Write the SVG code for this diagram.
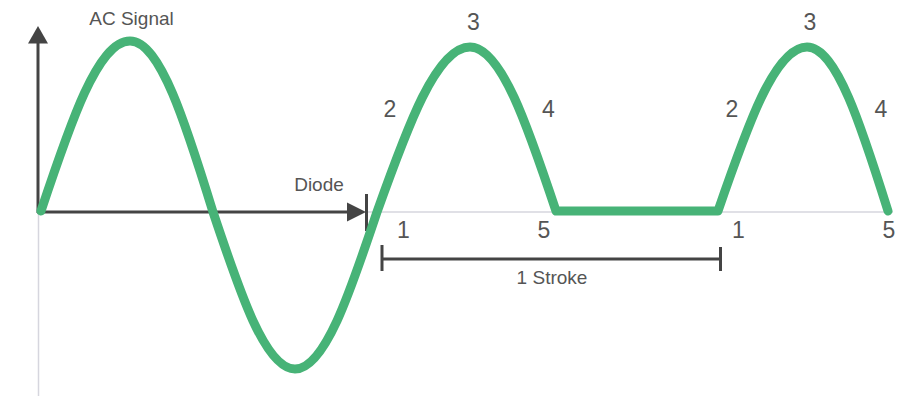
<svg xmlns="http://www.w3.org/2000/svg" width="897" height="398" viewBox="0 0 897 398">
<style>
.lbl{font-family:"Liberation Sans",Arial,sans-serif;fill:#555;text-anchor:middle}
.num{font-size:23px}
.txt{font-size:19px}
.dark{stroke:#444;stroke-width:3;fill:none}
.light{stroke:#d6d6de;stroke-width:1.5;fill:none}
.wave{stroke:#47B377;stroke-width:9;fill:none;stroke-linejoin:round;stroke-linecap:round}
</style>
<rect width="897" height="398" fill="#fff"/>
<g id="axes">
<line class="light" x1="38.5" y1="212" x2="38.5" y2="396"/>
<line class="light" x1="366" y1="212" x2="893" y2="212"/>
<line class="dark" x1="38" y1="42" x2="38" y2="213"/>
<polygon points="38,26 28,43.5 48,43.5" fill="#444"/>
</g>
<g id="diode">
<line class="dark" x1="37" y1="212" x2="352" y2="212"/>
<polygon points="347,202.5 366,212 347,221.5" fill="#444"/>
<line class="dark" x1="366.5" y1="194" x2="366.5" y2="231"/>
<text class="lbl txt" x="319" y="191">Diode</text>
</g>
<g id="wave">
<path class="wave" d="M41,211 C70,124 97.8,41 130,41 C160,41 185.9,124 213,212 C239.7,292 265.3,369 295,369 C324.7,369 350.3,292 377,212 C407.3,127 436.3,47 470,47 C501.1,47 528,127 556,211 L718,211 C747,127 774.8,47 807,47 C836.3,47 861.6,127 888,211"/>
</g>
<g id="bracket">
<line class="dark" x1="382" y1="259" x2="720" y2="259"/>
<line class="dark" x1="382" y1="245" x2="382" y2="271"/>
<line class="dark" x1="720.5" y1="247" x2="720.5" y2="271"/>
<text class="lbl txt" x="552" y="284">1 Stroke</text>
</g>
<g id="labels">
<text class="lbl txt" x="131.5" y="25">AC Signal</text>
<text class="lbl num" x="390" y="117">2</text>
<text class="lbl num" x="473.5" y="30">3</text>
<text class="lbl num" x="548.5" y="117">4</text>
<text class="lbl num" x="403.5" y="238">1</text>
<text class="lbl num" x="544" y="238">5</text>
<text class="lbl num" x="732" y="117">2</text>
<text class="lbl num" x="810" y="30">3</text>
<text class="lbl num" x="881" y="117">4</text>
<text class="lbl num" x="738.5" y="238">1</text>
<text class="lbl num" x="889" y="238">5</text>
</g>
</svg>
